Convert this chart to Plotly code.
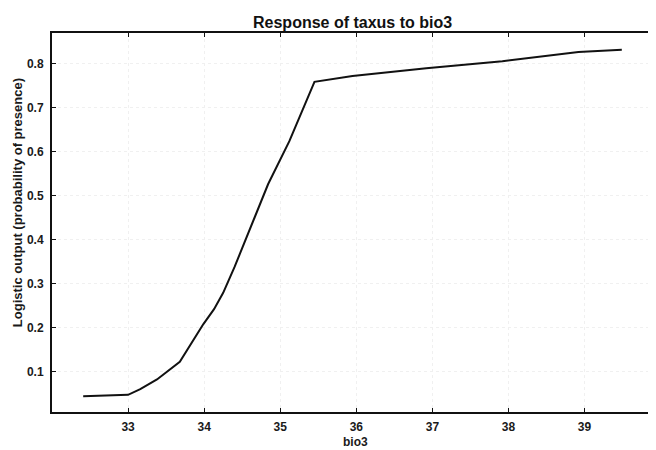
import plotly.graph_objects as go

# Data (response curve)
bio3 = [32.41, 33.0, 33.16, 33.38, 33.68, 33.99, 34.13, 34.25, 34.40, 34.62, 34.84, 35.12,
        35.21, 35.45, 35.95, 36.92, 37.92, 38.92, 39.49]
response = [0.044, 0.047, 0.060, 0.082, 0.122, 0.208, 0.242, 0.279, 0.338, 0.432, 0.526, 0.624,
            0.660, 0.759, 0.772, 0.790, 0.806, 0.827, 0.832]

x_ticks = [33, 34, 35, 36, 37, 38, 39]
y_ticks = [0.1, 0.2, 0.3, 0.4, 0.5, 0.6, 0.7, 0.8]

title_text = "Response of taxus to bio3"
x_title = "bio3"
y_title = "Logistic output (probability of presence)"

FONT = "Liberation Sans, Arial, sans-serif"
INK = "#1a1a1a"

fig = go.Figure()
fig.add_trace(go.Scatter(
    x=bio3, y=response, mode="lines",
    line=dict(color="#111111", width=2),
    showlegend=False,
))

axis_common = dict(
    showline=True, linecolor="#111111", linewidth=2, mirror="ticks",
    ticks="inside", ticklen=4, tickwidth=1, tickcolor="#111111",
    showgrid=True, gridcolor="#f0f0f0", griddash="dot", gridwidth=1,
    zeroline=False, automargin=False,
    tickfont=dict(family=FONT, size=12, color=INK, weight="bold"),
)

# the page body has an 8px margin, so the figure is sized to fit the 656x450 window
fig.update_layout(
    width=648, height=442,
    margin=dict(l=44, r=3, t=25, b=38),
    paper_bgcolor="white", plot_bgcolor="white",
    xaxis=dict(range=[32.0, 39.9], tickvals=x_ticks,
               ticktext=[str(v) for v in x_ticks], ticklabelstandoff=3,
               **axis_common),
    yaxis=dict(range=[0.008, 0.87], tickvals=y_ticks,
               ticktext=[f"{v:.1f}" for v in y_ticks], ticklabelstandoff=4,
               **axis_common),
    annotations=[
        dict(text="<b>" + title_text + "</b>", xref="paper", yref="paper",
             x=0.50, y=1.0, yshift=11, xanchor="center", yanchor="middle",
             showarrow=False, font=dict(family=FONT, size=16, color="#111111")),
        dict(text=x_title, xref="paper", yref="paper",
             x=0.505, y=0.0, yshift=-30, xanchor="center", yanchor="middle",
             showarrow=False, font=dict(family=FONT, size=12, color=INK, weight="bold")),
        dict(text=y_title, xref="paper", yref="y", textangle=-90,
             x=0.0, xshift=-35, y=0.483, xanchor="center", yanchor="middle",
             showarrow=False, font=dict(family=FONT, size=13, color=INK, weight="bold")),
    ],
)

fig.write_html("out.html")
